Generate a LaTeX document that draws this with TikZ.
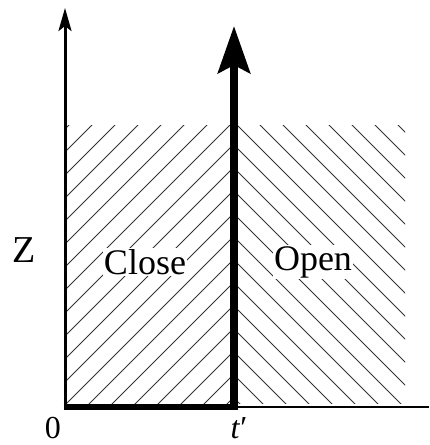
\documentclass[tikz,border=0pt]{standalone}
\usepackage{fontspec}
\setmainfont{Liberation Serif}
\usetikzlibrary{arrows.meta}
\begin{document}
\begin{tikzpicture}[x=1pt,y=-1pt,
  hatch/.style={line width=0.8pt,black!80},
  lbl/.style={font=\fontsize{36}{42}\selectfont,inner sep=1pt},
  axlbl/.style={font=\fontsize{32}{38}\selectfont,inner sep=0pt},
  region/.style={lbl,fill=white,inner sep=1pt}]
\useasboundingbox (0,0) rectangle (429,445);
% hatching, left region (/)
\begin{scope}
  \clip (66,125) rectangle (230,405);
  \foreach \k in {0,...,26}{
    \pgfmathsetmacro{\ca}{125+23*\k}
    \draw[hatch] (\ca,0) -- ++(-500,500);
  }
\end{scope}
% hatching, right region (\)
\begin{scope}
  \clip (238,125) rectangle (405,403);
  \foreach \k in {0,...,24}{
    \pgfmathsetmacro{\cb}{-187+23*\k}
    \draw[hatch] (\cb,0) -- ++(500,500);
  }
\end{scope}
\coordinate (O) at (65,407);
\coordinate (T) at (234,407);
\coordinate (Ztop) at (65,8);
\coordinate (Ttop) at (234,26);
\coordinate (Xend) at (429,407);
\node[region] (close) at (145,262) {Close};
\node[region] (open) at (313,262) {Open};
\node[lbl,font=\fontsize{38}{44}\selectfont] (z) at (24,250) {Z};
\node[axlbl,anchor=base] (zero) at (53,438) {0};
\node[axlbl,anchor=base] (tp) at (239,438) {\textit{t}′};
\draw[line width=2.7pt] (T) -- (Xend);
\draw[line width=3pt,-{Stealth[length=23pt,width=13pt,inset=5pt]}] ([yshift=2pt]O) -- (Ztop);
\draw[line width=6pt] ([xshift=-1.5pt]O) -- ([xshift=4pt]T);
\draw[line width=8pt,-{Stealth[length=47pt,width=32pt,inset=8pt]}] ([yshift=3pt]T) -- (Ttop);
\end{tikzpicture}
\end{document}
